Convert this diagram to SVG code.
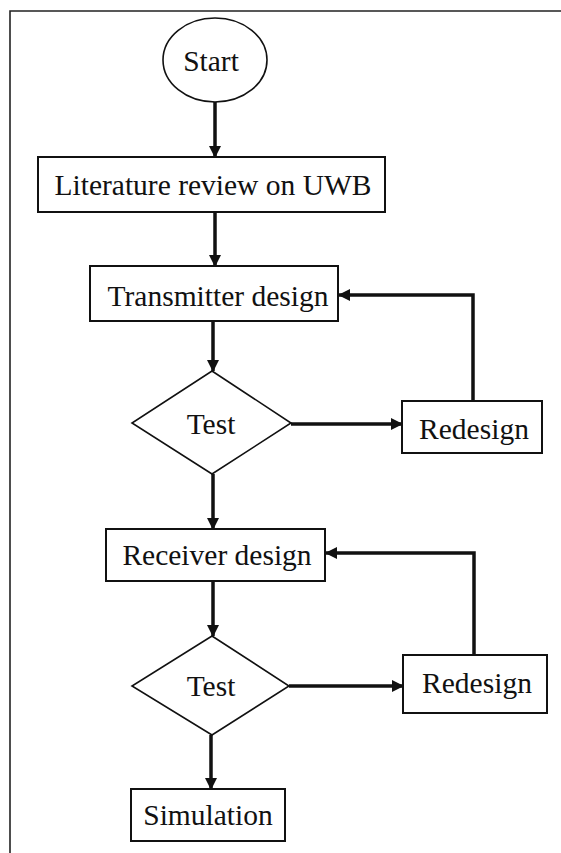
<svg xmlns="http://www.w3.org/2000/svg" width="561" height="853" viewBox="0 0 561 853">
  <style>
    .box { fill: #fff; stroke: #111; stroke-width: 2; }
    .shape { fill: #fff; stroke: #111; stroke-width: 1.6; }
    .lbl { font-family: "Liberation Serif", "Times New Roman", serif; font-size: 29.5px; fill: #111; text-anchor: middle; }
    .conn { fill: none; stroke: #111; stroke-width: 3.5; }
  </style>
  <defs>
    <marker id="arr" markerUnits="userSpaceOnUse" markerWidth="12" markerHeight="12" viewBox="0 0 12 12" refX="11" refY="6" orient="auto">
      <path d="M0,0 L12,6 L0,12 Z" fill="#111"/>
    </marker>
  </defs>
  <rect x="0" y="0" width="561" height="853" fill="#fff"/>
  <path d="M10,853 V11 H561" fill="none" stroke="#222" stroke-width="1.6"/>

  <g id="connectors">
    <path class="conn" d="M215,102 V157" marker-end="url(#arr)"/>
    <path class="conn" d="M215,212 V266" marker-end="url(#arr)"/>
    <path class="conn" d="M213,321 V371" marker-end="url(#arr)"/>
    <path class="conn" d="M291,424 H402" marker-end="url(#arr)"/>
    <path class="conn" d="M473,401 V295 H339" marker-end="url(#arr)"/>
    <path class="conn" d="M213,474 V529" marker-end="url(#arr)"/>
    <path class="conn" d="M213,581 V636" marker-end="url(#arr)"/>
    <path class="conn" d="M289,686 H403" marker-end="url(#arr)"/>
    <path class="conn" d="M474,655 V553 H326" marker-end="url(#arr)"/>
    <path class="conn" d="M211,735 V789" marker-end="url(#arr)"/>
  </g>

  <g id="start">
    <ellipse class="shape" cx="215" cy="60" rx="52" ry="42"/>
    <text class="lbl" x="211" y="71">Start</text>
  </g>
  <g id="literature">
    <rect class="box" x="38" y="157" width="347" height="55"/>
    <text class="lbl" x="213" y="195">Literature review on UWB</text>
  </g>
  <g id="transmitter">
    <rect class="box" x="90" y="266" width="248" height="55"/>
    <text class="lbl" x="218" y="306">Transmitter design</text>
  </g>
  <g id="test1">
    <polygon class="shape" points="212,371 291,423 212,474 132,423"/>
    <text class="lbl" x="211" y="434">Test</text>
  </g>
  <g id="redesign1">
    <rect class="box" x="402" y="401" width="140" height="52"/>
    <text class="lbl" x="474" y="439">Redesign</text>
  </g>
  <g id="receiver">
    <rect class="box" x="106" y="529" width="219" height="52"/>
    <text class="lbl" x="217" y="565">Receiver design</text>
  </g>
  <g id="test2">
    <polygon class="shape" points="212,636 289,686 212,735 132,686"/>
    <text class="lbl" x="211" y="696">Test</text>
  </g>
  <g id="redesign2">
    <rect class="box" x="403" y="655" width="144" height="58"/>
    <text class="lbl" x="477" y="693">Redesign</text>
  </g>
  <g id="simulation">
    <rect class="box" x="131" y="789" width="154" height="52"/>
    <text class="lbl" x="208" y="825">Simulation</text>
  </g>
</svg>
